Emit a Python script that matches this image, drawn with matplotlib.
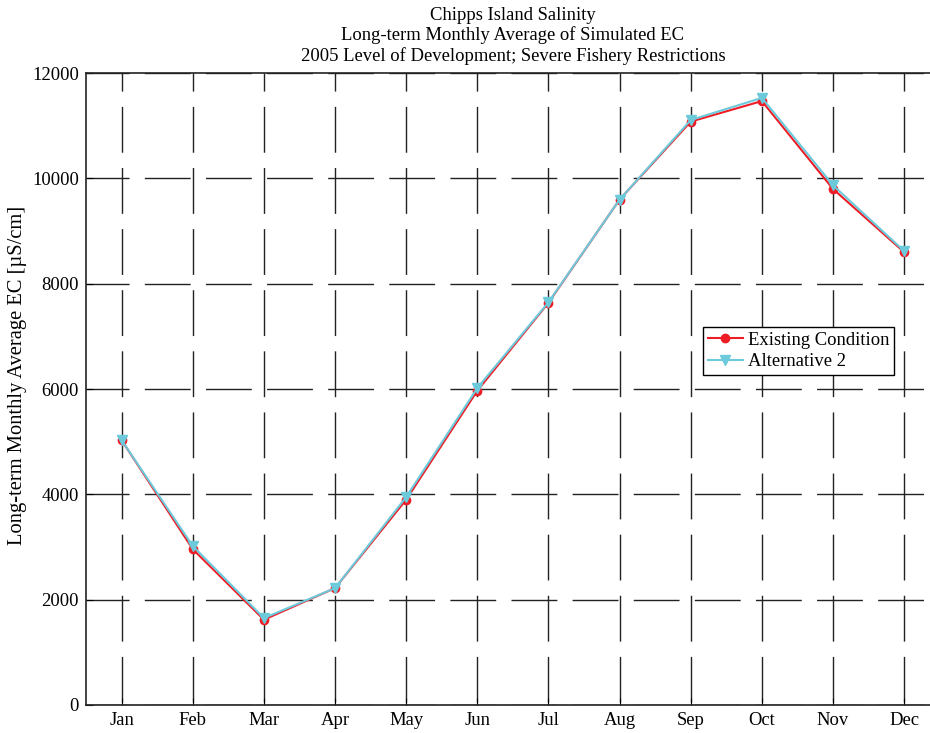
import numpy as np
import matplotlib.pyplot as plt

plt.rcParams['font.family'] = ['Liberation Serif', 'DejaVu Serif']

months = ['Jan', 'Feb', 'Mar', 'Apr', 'May', 'Jun', 'Jul', 'Aug', 'Sep', 'Oct', 'Nov', 'Dec']
existing = [5030, 2960, 1620, 2220, 3900, 5970, 7640, 9600, 11080, 11470, 9800, 8600]
alt2 = [5030, 3020, 1650, 2220, 3950, 6020, 7650, 9600, 11110, 11530, 9870, 8620]

x = np.arange(1, 13)

fig = plt.figure(figsize=(9.3, 7.33), dpi=100)
ax = fig.add_axes([0.0925, 0.0382, 0.918, 0.862])

ax.plot(x, existing, '-o', color='#ee1c25', markersize=6, linewidth=1.5, label='Existing Condition')
ax.plot(x, alt2, '-v', color='#6ccadb', markersize=7, linewidth=1.5, label='Alternative 2')

ax.set_xlim(0.5, 12.5)
ax.set_ylim(0, 12000)
ax.set_xticks(x)
ax.set_xticklabels(months)
ax.set_yticks(np.arange(0, 12001, 2000))
ax.tick_params(direction='in', labelsize=13.4, length=5, pad=5)

# MATLAB-like long dashes: ~46px on, ~15px off
ax.yaxis.grid(True, color='#222222', linestyle=(2, (33, 11)), linewidth=1.0)
ax.xaxis.grid(True, color='#222222', linestyle=(42, (33, 11)), linewidth=1.0)
for s in ax.spines.values():
    s.set_linewidth(1.2)
    s.set_color('#222222')

ax.set_ylabel('Long-term Monthly Average EC [µS/cm]', fontsize=14.8)
ax.yaxis.set_label_coords(-0.069, 0.521)
ax.set_title('Chipps Island Salinity\nLong-term Monthly Average of Simulated EC\n'
             '2005 Level of Development; Severe Fishery Restrictions',
             fontsize=13.4, linespacing=1.18, pad=9)

leg = ax.legend(loc='upper left', bbox_to_anchor=(0.756, 0.554), bbox_transform=fig.transFigure,
                fontsize=13.4, fancybox=False, framealpha=1, edgecolor='black',
                borderpad=0.25, handlelength=1.9, handletextpad=0.27, labelspacing=0.24,
                borderaxespad=0)
leg.get_frame().set_linewidth(1.0)

fig.savefig('out.png', dpi=100)
